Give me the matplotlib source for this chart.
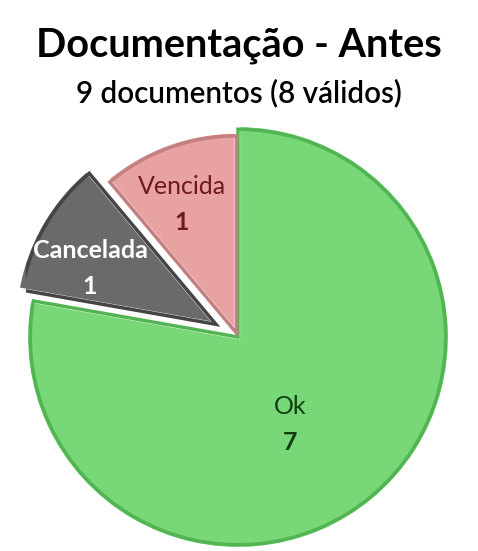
import numpy as np
import matplotlib
matplotlib.use("Agg")
import matplotlib.pyplot as plt

plt.rcParams['font.family'] = ['Lato', 'DejaVu Sans']

# dados
categorias = ['Ok', 'Cancelada', 'Vencida']
valores = [7, 1, 1]
cores = ['#78d878', '#6a6a6a', '#e8a2a2']
bordas = ['#52b452', '#454545', '#c48080']
cores_texto = ['#0f3f0f', '#ffffff', '#6e1a1a']
peso_nome = ['normal', 'bold', 'normal']
explode = [0.0, 0.12, 0.02]
raios = [1.0, 0.95, 0.95]
dist_label = [0.48, 0.65, 0.66]
desvio_ang = [-9, 6, 3]

fig = plt.figure(figsize=(4.78, 5.51), dpi=100)
ax = fig.add_axes([0.0544, 0.0036, 0.887, 0.7695])

wedges, _ = ax.pie(valores, colors=cores, startangle=90, counterclock=False,
                   explode=explode, radius=1.0,
                   wedgeprops=dict(edgecolor='white', linewidth=3))
for w, b, r in zip(wedges, bordas, raios):
    w.set_radius(r)
    # contorno interno para dar um efeito de relevo
    inner = matplotlib.patches.Wedge(w.center, r - 0.02, w.theta1, w.theta2,
                                     facecolor='none', edgecolor=b, linewidth=2.5)
    ax.add_patch(inner)

for i, w in enumerate(wedges):
    ang = np.deg2rad((w.theta1 + w.theta2) / 2 + desvio_ang[i])
    cx, cy = w.center
    x = cx + dist_label[i] * np.cos(ang)
    y = cy + dist_label[i] * np.sin(ang)
    ax.text(x, y + 0.085, categorias[i], ha='center', va='center',
            fontsize=18, color=cores_texto[i], fontweight=peso_nome[i])
    ax.text(x, y - 0.085, str(valores[i]), ha='center', va='center',
            fontsize=18, color=cores_texto[i], fontweight='bold')

ax.set_xlim(-1, 1)
ax.set_ylim(-1, 1)
ax.set_aspect('equal')
ax.axis('off')

fig.text(0.5, 0.918, 'Documentação - Antes', ha='center', va='center',
         fontsize=28.5, fontweight='bold', color='black')
fig.text(0.5, 0.831, '9 documentos (8 válidos)', ha='center', va='center',
         fontsize=21.3, fontweight='semibold', color='black')

fig.savefig('out.png', dpi=100)
